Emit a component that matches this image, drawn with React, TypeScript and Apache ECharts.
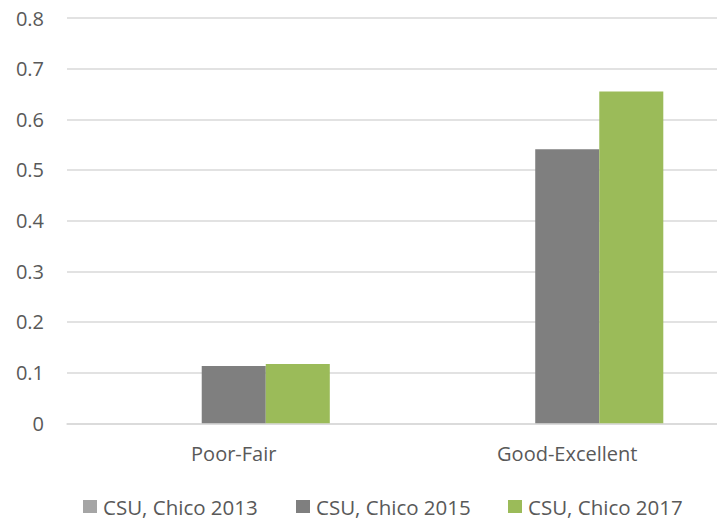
import React, { useEffect, useRef } from "react";
import * as echarts from "echarts";

const categories = ["Poor-Fair", "Good-Excellent"];
const seriesNames = ["CSU, Chico 2013", "CSU, Chico 2015", "CSU, Chico 2017"];
const values2013 = [0, 0];
const values2015 = [0.113, 0.541];
const values2017 = [0.117, 0.655];
const colors = ["#A5A5A5", "#7F7F7F", "#9BBB59"];
const yTicks = { min: 0, max: 0.8, interval: 0.1 };

export default function App() {
  const ref = useRef<HTMLDivElement>(null);
  useEffect(() => {
    if (!ref.current) return;
    const chart = echarts.init(ref.current, null, { renderer: "svg" });
    const font = "'Open Sans', sans-serif";
    const fs = 20;
    const legendLefts = [83, 296, 508];
    chart.setOption({
      animation: false,
      textStyle: { fontFamily: font },
      grid: { left: 67, width: 667, top: 18, bottom: 98.7, containLabel: false },
      legend: seriesNames.map((n, i) => ({
        data: [n],
        top: 496,
        left: legendLefts[i],
        padding: 0,
        itemWidth: 14,
        itemHeight: 13,
        icon: "rect",
        textStyle: { color: "#595959", fontSize: 20.5, fontFamily: font, padding: [0, 0, 0, 1] },
      })),
      xAxis: {
        type: "category",
        data: categories,
        axisLine: { lineStyle: { color: "#D9D9D9", width: 1.5 } },
        axisTick: { show: false },
        axisLabel: { color: "#595959", fontSize: fs, margin: 20, fontFamily: font },
      },
      yAxis: {
        type: "value",
        min: yTicks.min,
        max: yTicks.max,
        interval: yTicks.interval,
        axisLine: { show: false },
        axisTick: { show: false },
        splitLine: { lineStyle: { color: "#D9D9D9", width: 1.5 } },
        axisLabel: {
          color: "#595959",
          fontSize: fs,
          margin: 23,
          fontFamily: font,
          formatter: (v: number) => (v === 0 ? "0" : String(Math.round(v * 10) / 10)),
        },
      },
      series: [
        { name: seriesNames[0], type: "bar", data: values2013, itemStyle: { color: colors[0] }, barGap: "0%", barCategoryGap: "42.4%" },
        { name: seriesNames[1], type: "bar", data: values2015, itemStyle: { color: colors[1] }, barGap: "0%", barCategoryGap: "42.4%" },
        { name: seriesNames[2], type: "bar", data: values2017, itemStyle: { color: colors[2] }, barGap: "0%", barCategoryGap: "42.4%" },
      ],
    });
    return () => chart.dispose();
  }, []);
  return (
    <div style={{ position: "absolute", left: 0, top: 0, width: 717, height: 522, overflow: "hidden", background: "#fff" }}>
      <div ref={ref} style={{ width: 734, height: 522 }} />
    </div>
  );
}
